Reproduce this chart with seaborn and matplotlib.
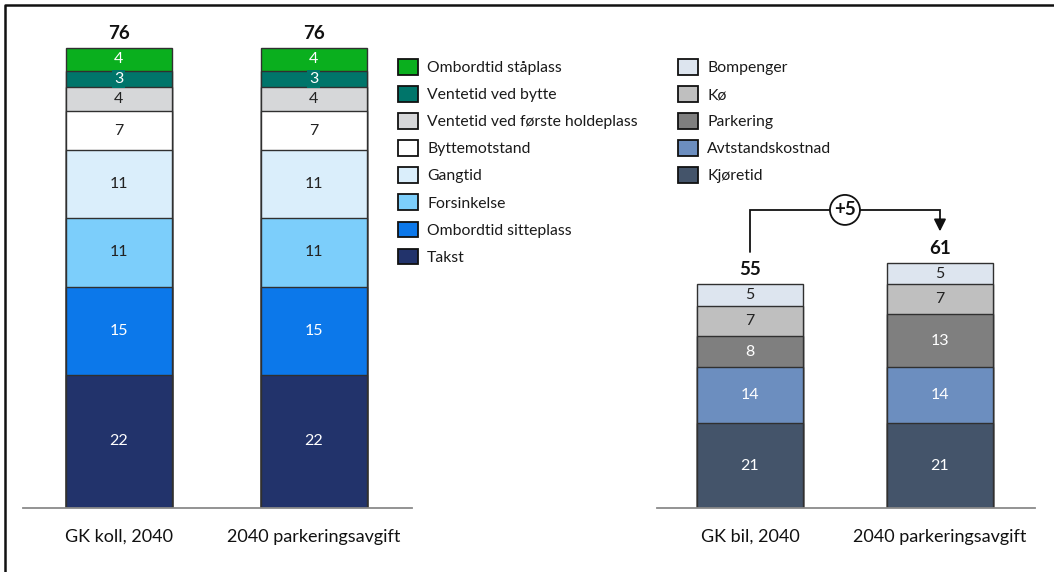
import numpy as np
import pandas as pd
import matplotlib
matplotlib.use("Agg")
import matplotlib.pyplot as plt
from matplotlib.patches import Patch
from matplotlib.lines import Line2D
import matplotlib.transforms as mtransforms
import seaborn as sns

sns.set_theme(style="white")
plt.rcParams['font.family'] = ['Lato', 'DejaVu Sans']

# ---------------- data ----------------
koll_scenarios = ["GK koll, 2040", "2040 parkeringsavgift"]
koll_components = ["Takst", "Ombordtid sitteplass", "Forsinkelse", "Gangtid",
                   "Byttemotstand", "Ventetid ved første holdeplass",
                   "Ventetid ved bytte", "Ombordtid ståplass"]
koll_values = {
    "GK koll, 2040":         [22.0, 14.6, 11.3, 11.2, 6.5, 4.0, 2.7, 3.7],
    "2040 parkeringsavgift": [22.0, 14.6, 11.3, 11.2, 6.5, 4.0, 2.7, 3.7],
}
koll_labels = {
    "GK koll, 2040":         [22, 15, 11, 11, 7, 4, 3, 4],
    "2040 parkeringsavgift": [22, 15, 11, 11, 7, 4, 3, 4],
}
koll_totals = [76, 76]
koll_colors = ["#22336b", "#0c78ea", "#7ccefb", "#daeefb",
               "#ffffff", "#d6d7d9", "#00756a", "#0aaf1e"]
koll_text = ["white", "white", "#222222", "#222222",
             "#222222", "#222222", "white", "white"]

bil_scenarios = ["GK bil, 2040", "2040 parkeringsavgift"]
bil_components = ["Kjøretid", "Avtstandskostnad", "Parkering", "Kø", "Bompenger"]
bil_values = {
    "GK bil, 2040":          [20.9, 13.8, 7.7, 7.55, 5.25],
    "2040 parkeringsavgift": [20.9, 13.8, 13.1, 7.4, 5.2],
}
bil_labels = {
    "GK bil, 2040":          [21, 14, 8, 7, 5],
    "2040 parkeringsavgift": [21, 14, 13, 7, 5],
}
bil_totals = [55, 61]
bil_colors = ["#44546a", "#6c8ebf", "#7f7f7f", "#bfbfbf", "#dde5ef"]
bil_text = ["white", "white", "white", "#222222", "#222222"]

diff_label = "+5"

# ---------------- figure ----------------
W, H = 1054, 572
fig = plt.figure(figsize=(W / 100, H / 100), dpi=100)

def px_axes(x0, x1, y_base, y_top):
    return fig.add_axes([x0 / W, (H - y_base) / H, (x1 - x0) / W, (y_base - y_top) / H])

ax1 = px_axes(23, 412, 508, 8)
ax2 = px_axes(657, 1035, 508, 8)

EDGE = "#303030"

def stacked(ax, scenarios, components, values, labels, colors, tcolors, totals, width, ylim, fs):
    rows = []
    for s in scenarios:
        cum = np.cumsum(values[s])
        for i, c in enumerate(components):
            rows.append(dict(scenario=s, comp=c, cum=cum[i], val=values[s][i],
                             lab=labels[s][i], bottom=cum[i] - values[s][i], idx=i))
    df = pd.DataFrame(rows)
    # draw from top component (largest cumulative) down
    for i in reversed(range(len(components))):
        sub = df[df.idx == i]
        sns.barplot(data=sub, x="scenario", y="cum", order=scenarios, color=colors[i],
                    saturation=1, width=width, edgecolor=EDGE, linewidth=1.0, ax=ax)
    for _, r in df.iterrows():
        xi = scenarios.index(r.scenario)
        kw = {}
        if components[r.idx] == "Ventetid ved bytte":
            kw = dict(bbox=dict(boxstyle="square,pad=0.12", fc=colors[r.idx], ec="none"))
        ax.text(xi, r.bottom + r.val / 2, f"{r.lab}", ha="center", va="center",
                color=tcolors[r.idx], fontsize=fs, **kw)
    off = mtransforms.ScaledTranslation(0, 6 / 100, fig.dpi_scale_trans)
    for xi, s in enumerate(scenarios):
        top = float(np.sum(values[s]))
        ax.text(xi, top, f"{totals[xi]}", ha="center", va="bottom", fontsize=13.5,
                fontweight="bold", color="#111111", transform=ax.transData + off)
    ax.set_ylim(*ylim)
    ax.set_xlabel("")
    ax.set_ylabel("")
    ax.set_yticks([])
    for sp in ["top", "left", "right"]:
        ax.spines[sp].set_visible(False)
    ax.spines["bottom"].set_color("#8a8a8a")
    ax.spines["bottom"].set_linewidth(1.3)
    ax.tick_params(axis="x", length=0, pad=15, labelsize=13, labelcolor="#111111")
    ax.set_facecolor("none")

stacked(ax1, koll_scenarios, koll_components, koll_values, koll_labels, koll_colors,
        koll_text, koll_totals, 0.544, (0, 500 / 6.05), 11.5)
ax1.set_xlim(-0.492, 1.503)
stacked(ax2, bil_scenarios, bil_components, bil_values, bil_labels, bil_colors,
        bil_text, bil_totals, 0.558, (0, 500 / 4.05), 11.5)
ax2.set_xlim(-0.489, 1.5)

# ---------------- legends ----------------
def make_legend(comps, colors, x_px, y_px):
    handles = [Patch(facecolor=colors[i], edgecolor="#111111", linewidth=1.3, label=comps[i])
               for i in reversed(range(len(comps)))]
    leg = fig.legend(handles=handles, loc="upper left",
                     bbox_to_anchor=(x_px / W, (H - y_px) / H),
                     frameon=False, fontsize=11.3, handlelength=1.3, handleheight=1.15,
                     handletextpad=0.55, labelspacing=0.7, borderpad=0, borderaxespad=0)
    for t in leg.get_texts():
        t.set_color("#1a1a1a")
    return leg

make_legend(koll_components, koll_colors, 398, 59)
make_legend(bil_components, bil_colors, 678, 59)

# ---------------- annotation ----------------
y_start, y_top, y_end = 63.2, 73.6, 68.3
ax2.plot([0, 0, 1, 1], [y_start, y_top, y_top, y_end + 2.5], color="#111111", lw=1.3,
         clip_on=False, solid_joinstyle="miter")
ax2.annotate("", xy=(1, y_end), xytext=(1, y_end + 3),
             arrowprops=dict(arrowstyle="-|>,head_width=0.3,head_length=0.6",
                             color="#111111", lw=1.3, shrinkA=0, shrinkB=0),
             annotation_clip=False)
ax2.text(0.5, y_top, diff_label, ha="center", va="center", fontsize=13.5, fontweight="bold",
         color="#111111",
         bbox=dict(boxstyle="circle,pad=0.22", fc="white", ec="#111111", lw=1.3))

# ---------------- frame ----------------
fig.add_artist(Line2D([5 / W, 5 / W, 1.0], [0.0, (H - 5) / H, (H - 5) / H],
                      transform=fig.transFigure, color="#111111", lw=1.8))

fig.savefig("out.png", dpi=100, facecolor="white")
